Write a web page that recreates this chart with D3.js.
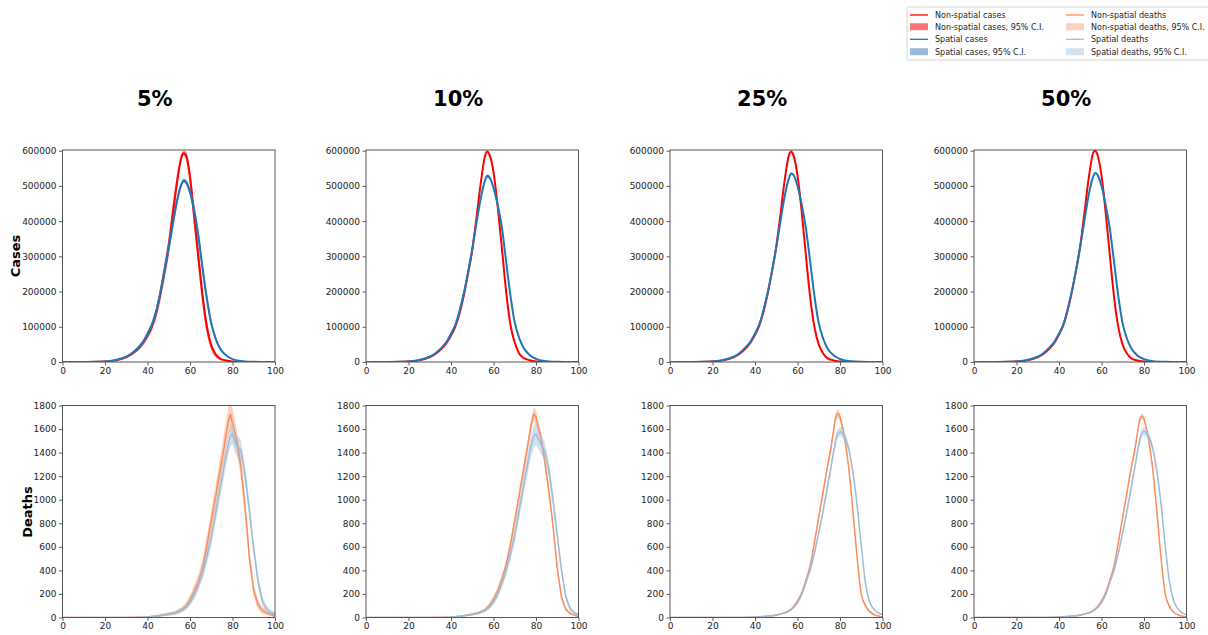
<!DOCTYPE html>
<html>
<head>
<meta charset="utf-8">
<script src="https://cdn.jsdelivr.net/npm/d3@7"></script>
<style>
  body { margin: 0; background: #fff; }
  svg { font-family: "DejaVu Sans", sans-serif; }
</style>
</head>
<body>
<script>
(function () {
// ---- data ----
const colTitles = ["5%", "10%", "25%", "50%"];

const caseDays = [0, 10, 16, 20, 24, 28, 32, 36, 38, 40, 42, 44, 46, 48, 50, 52, 54, 56, 57, 58, 60, 62, 64, 66, 68, 70, 72, 74, 77, 80, 85, 90, 100];
const caseTicks = [0, 100000, 200000, 300000, 400000, 500000, 600000];

const nsCases5  = [0, 100, 500, 1200, 3500, 9000, 20000, 40000, 55000, 75000, 100000, 138000, 192000, 258000, 330000, 425000, 515000, 582000, 593000, 588000, 525000, 410000, 295000, 183000, 98000, 47000, 22000, 10000, 4000, 1500, 300, 0, 0];
const spCases5  = [0, 150, 700, 1600, 4500, 10500, 22000, 43000, 58000, 80000, 105000, 142000, 195000, 258000, 325000, 395000, 460000, 505000, 515000, 512000, 482000, 430000, 355000, 262000, 178000, 110000, 68000, 40000, 19000, 8000, 2000, 400, 0];
const nsCases10 = [0, 100, 500, 1200, 3500, 9000, 20000, 40000, 55000, 75000, 100000, 138000, 188000, 250000, 318000, 410000, 508000, 585000, 598000, 590000, 540000, 440000, 320000, 197000, 105000, 55000, 25000, 12000, 5000, 1500, 300, 0, 0];
const spCases10 = [0, 150, 700, 1600, 4500, 10500, 22000, 43000, 58000, 80000, 105000, 145000, 195000, 255000, 320000, 395000, 465000, 515000, 528000, 525000, 495000, 445000, 380000, 282000, 188000, 112000, 70000, 42000, 20000, 9000, 2000, 400, 0];
const nsCases25 = [0, 100, 500, 1200, 3500, 9000, 20000, 41000, 56000, 77000, 103000, 143000, 195000, 258000, 328000, 420000, 518000, 588000, 598000, 588000, 530000, 425000, 300000, 182000, 98000, 50000, 25000, 11000, 4500, 1300, 250, 0, 0];
const spCases25 = [0, 150, 700, 1600, 4500, 10500, 22000, 44000, 59000, 81000, 106000, 147000, 198000, 258000, 325000, 400000, 472000, 522000, 535000, 532000, 500000, 447000, 378000, 283000, 186000, 110000, 68000, 40000, 19000, 8500, 1800, 400, 0];
const nsCases50 = [0, 100, 500, 1200, 3500, 9000, 20000, 41000, 56000, 78000, 104000, 145000, 197000, 260000, 330000, 425000, 523000, 592000, 600000, 590000, 530000, 422000, 298000, 180000, 96000, 48000, 24000, 10500, 4300, 1200, 250, 0, 0];
const spCases50 = [0, 150, 700, 1600, 4500, 10500, 22000, 44000, 59000, 81000, 106000, 148000, 200000, 260000, 328000, 403000, 475000, 525000, 537000, 533000, 500000, 445000, 375000, 280000, 183000, 108000, 66000, 39000, 18000, 8000, 1700, 400, 0];

// 95% C.I. half widths (cases)
const nsCasesCi5  = [0, 0, 100, 300, 800, 1600, 3000, 6000, 7500, 9000, 12000, 16000, 21000, 25000, 29000, 30000, 22000, 10000, 6000, 10000, 25000, 32000, 32000, 28000, 20000, 12000, 7000, 4000, 1500, 500, 100, 0, 0];
const spCasesCi5  = [0, 0, 100, 300, 800, 1500, 2800, 5000, 6000, 7500, 9000, 11500, 14500, 17500, 20000, 20000, 15000, 8000, 6000, 7000, 12000, 18000, 20000, 20000, 17000, 12000, 8000, 5000, 2000, 800, 200, 0, 0];
const nsCasesCi10 = [0, 0, 50, 100, 300, 600, 1200, 2500, 3000, 4000, 5000, 6500, 8000, 9000, 10000, 10000, 8000, 4000, 3000, 4000, 9000, 11000, 11000, 9000, 7000, 4000, 2500, 1500, 500, 100, 0, 0, 0];
const spCasesCi10 = [0, 0, 50, 200, 400, 800, 1600, 3000, 3500, 4500, 5500, 7000, 8000, 9000, 10000, 10000, 8000, 6000, 5000, 6000, 8000, 9000, 10000, 9000, 7000, 5000, 3500, 2200, 800, 300, 100, 0, 0];
const nsCasesCi25 = [0, 0, 50, 100, 200, 400, 700, 1200, 1500, 2000, 2500, 3000, 3500, 4000, 4500, 4500, 3500, 2000, 1500, 2000, 4000, 5000, 5000, 4500, 3500, 2000, 1200, 700, 200, 50, 0, 0, 0];
const spCasesCi25 = [0, 0, 50, 100, 250, 500, 900, 1500, 1900, 2500, 3000, 3600, 4200, 4800, 5400, 5400, 4500, 3000, 2500, 3000, 4800, 6000, 6000, 5400, 4200, 2600, 1600, 900, 300, 100, 0, 0, 0];
const nsCasesCi50 = [0, 0, 50, 100, 200, 350, 600, 1000, 1300, 1600, 2000, 2500, 3000, 3500, 4000, 4000, 3000, 1800, 1500, 1800, 3500, 4500, 4500, 4000, 3000, 1800, 1100, 600, 200, 50, 0, 0, 0];
const spCasesCi50 = [0, 0, 50, 100, 200, 400, 800, 1300, 1700, 2200, 2600, 3200, 3800, 4400, 5000, 5000, 4200, 3000, 2500, 3000, 4500, 5500, 5500, 5000, 4000, 2400, 1500, 800, 300, 100, 0, 0, 0];

const deathDays = [0, 10, 20, 30, 35, 40, 45, 50, 53, 56, 58, 60, 62, 64, 66, 68, 70, 72, 74, 76, 77, 78, 79, 80, 81, 82, 84, 86, 88, 90, 92, 94, 96, 98, 100];
const deathTicks = [0, 200, 400, 600, 800, 1000, 1200, 1400, 1600, 1800];

const nsDeaths5  = [0, 0, 0, 0, 2, 5, 15, 30, 40, 65, 95, 150, 225, 310, 430, 620, 820, 1020, 1230, 1440, 1560, 1660, 1725, 1650, 1580, 1500, 1270, 920, 500, 230, 110, 60, 40, 25, 10];
const spDeaths5  = [0, 0, 0, 0, 0, 5, 12, 28, 40, 60, 85, 130, 190, 280, 380, 520, 680, 880, 1080, 1280, 1380, 1460, 1540, 1560, 1500, 1460, 1420, 1200, 900, 580, 310, 140, 70, 45, 30];
const nsDeaths10 = [0, 0, 0, 0, 2, 5, 12, 28, 40, 65, 100, 155, 230, 330, 450, 620, 820, 1030, 1240, 1450, 1560, 1660, 1730, 1700, 1620, 1560, 1340, 1080, 780, 420, 170, 70, 35, 20, 8];
const spDeaths10 = [0, 0, 0, 0, 0, 4, 10, 25, 38, 58, 85, 130, 195, 290, 400, 540, 700, 900, 1110, 1300, 1400, 1480, 1540, 1560, 1520, 1480, 1420, 1260, 1000, 700, 400, 180, 75, 40, 25];
const nsDeaths25 = [0, 0, 0, 0, 1, 4, 10, 22, 35, 58, 90, 140, 210, 320, 440, 640, 850, 1060, 1270, 1470, 1590, 1700, 1732, 1700, 1630, 1540, 1290, 920, 520, 200, 100, 50, 25, 12, 5];
const spDeaths25 = [0, 0, 0, 0, 1, 3, 9, 20, 33, 55, 82, 125, 195, 300, 410, 550, 720, 900, 1100, 1300, 1410, 1500, 1560, 1578, 1568, 1540, 1440, 1240, 960, 610, 290, 130, 70, 40, 25];
const nsDeaths50 = [0, 0, 0, 0, 1, 4, 10, 22, 35, 58, 90, 142, 212, 322, 445, 645, 855, 1065, 1270, 1460, 1575, 1680, 1708, 1685, 1615, 1525, 1275, 910, 510, 200, 95, 45, 22, 10, 4];
const spDeaths50 = [0, 0, 0, 0, 1, 3, 9, 20, 33, 55, 82, 126, 196, 300, 410, 552, 720, 905, 1105, 1305, 1415, 1505, 1565, 1580, 1570, 1545, 1445, 1250, 965, 605, 300, 140, 72, 40, 22];

// 95% C.I. half widths (deaths)
const nsDeathsCi5  = [0, 0, 0, 0, 3, 5, 10, 15, 18, 25, 30, 40, 50, 60, 70, 80, 90, 100, 110, 120, 120, 125, 130, 120, 110, 100, 90, 80, 70, 55, 40, 30, 20, 15, 10];
const spDeathsCi5  = [0, 0, 0, 0, 0, 3, 6, 10, 14, 18, 22, 28, 35, 45, 55, 65, 75, 80, 85, 90, 90, 90, 90, 90, 90, 90, 85, 80, 70, 60, 50, 40, 30, 20, 15];
const nsDeathsCi10 = [0, 0, 0, 0, 2, 4, 6, 10, 12, 16, 20, 25, 30, 35, 40, 45, 50, 50, 50, 55, 55, 55, 60, 60, 55, 55, 50, 45, 40, 35, 25, 15, 10, 8, 5];
const spDeathsCi10 = [0, 0, 0, 0, 0, 3, 5, 8, 10, 14, 18, 22, 28, 35, 45, 55, 65, 75, 85, 90, 95, 95, 95, 95, 90, 85, 80, 70, 60, 50, 40, 30, 20, 15, 10];
const nsDeathsCi25 = [0, 0, 0, 0, 1, 2, 3, 5, 6, 8, 10, 12, 15, 18, 20, 22, 25, 28, 30, 32, 35, 35, 35, 35, 35, 33, 30, 28, 25, 20, 15, 10, 6, 4, 2];
const spDeathsCi25 = [0, 0, 0, 0, 1, 2, 3, 5, 6, 8, 10, 12, 15, 18, 22, 25, 28, 30, 35, 38, 40, 40, 40, 40, 40, 38, 35, 32, 28, 22, 16, 10, 6, 4, 3];
const nsDeathsCi50 = [0, 0, 0, 0, 1, 2, 3, 4, 5, 6, 8, 10, 12, 14, 16, 18, 20, 22, 24, 25, 25, 26, 26, 26, 25, 24, 22, 20, 18, 15, 10, 6, 4, 3, 2];
const spDeathsCi50 = [0, 0, 0, 0, 1, 2, 3, 4, 5, 7, 9, 11, 13, 16, 19, 22, 25, 27, 30, 32, 34, 35, 35, 35, 35, 34, 32, 30, 26, 20, 14, 9, 6, 4, 3];

const legendLabels = [
  "Non-spatial cases", "Non-spatial cases, 95% C.I.", "Spatial cases", "Spatial cases, 95% C.I.",
  "Non-spatial deaths", "Non-spatial deaths, 95% C.I.", "Spatial deaths", "Spatial deaths, 95% C.I."
];

// ---- styles ----
const C = {
  nsCase: "#ff0000", nsCaseBand: "#ff0000",
  spCase: "#1f77b4", spCaseBand: "#4682b4",
  nsDeath: "#fc8d59", nsDeathBand: "#fc8d59",
  spDeath: "#9ebcda", spDeathBand: "#9ebcda"
};
const bandOpacity = { nsCase: 0.5, spCase: 0.55, nsDeath: 0.4, spDeath: 0.45 };

// ---- layout ----
const W = 1208, H = 635;
const colLeft = [62.5, 366, 670, 974];
const rowTop = [150, 405.5];
const axW = 212.5, axH = 212;

const svg = d3.select("body").append("svg")
  .attr("width", W)
  .attr("height", H);

const columns = [
  { cases: [nsCases5, nsCasesCi5, spCases5, spCasesCi5], deaths: [nsDeaths5, nsDeathsCi5, spDeaths5, spDeathsCi5], jagged: true },
  { cases: [nsCases10, nsCasesCi10, spCases10, spCasesCi10], deaths: [nsDeaths10, nsDeathsCi10, spDeaths10, spDeathsCi10], jagged: true },
  { cases: [nsCases25, nsCasesCi25, spCases25, spCasesCi25], deaths: [nsDeaths25, nsDeathsCi25, spDeaths25, spDeathsCi25], jagged: false },
  { cases: [nsCases50, nsCasesCi50, spCases50, spCasesCi50], deaths: [nsDeaths50, nsDeathsCi50, spDeaths50, spDeathsCi50], jagged: false }
];

function drawPanel(id, left, top, days, yMax, yTicks, series, curve) {
  const g = svg.append("g").attr("transform", `translate(${left}, ${top})`);

  const x = d3.scaleLinear().domain([0, 100]).range([0, axW]);
  const y = d3.scaleLinear().domain([0, yMax]).range([axH, 0]);

  g.append("clipPath").attr("id", id)
    .append("rect").attr("width", axW).attr("height", axH);

  const plot = g.append("g").attr("clip-path", `url(#${id})`);

  series.forEach(s => {
    const pts = days.map((d, i) => ({ day: d, v: s.vals[i], ci: s.ci[i] }));

    const area = d3.area()
      .x(d => x(d.day))
      .y0(d => y(Math.max(0, d.v - d.ci)))
      .y1(d => y(d.v + d.ci))
      .curve(curve);

    const line = d3.line()
      .x(d => x(d.day))
      .y(d => y(d.v))
      .curve(curve);

    plot.append("path")
      .datum(pts)
      .attr("fill", s.band)
      .attr("fill-opacity", s.bandOpacity)
      .attr("d", area);

    plot.append("path")
      .datum(pts)
      .attr("fill", "none")
      .attr("stroke", s.color)
      .attr("stroke-width", s.width)
      .attr("stroke-linejoin", "round")
      .attr("d", line);
  });

  // axes
  const xAxis = g.append("g")
    .attr("transform", `translate(0, ${axH})`)
    .call(d3.axisBottom(x).tickValues([0, 20, 40, 60, 80, 100]).tickSize(3.5).tickPadding(2));
  const yAxis = g.append("g")
    .call(d3.axisLeft(y).tickValues(yTicks).tickFormat(d3.format("d")).tickSize(3.5).tickPadding(2.5));

  [xAxis, yAxis].forEach(a => {
    a.select(".domain").remove();
    a.selectAll(".tick line").attr("stroke", "#333").attr("stroke-width", 0.8);
    a.selectAll(".tick text")
      .attr("fill", "#222")
      .style("font-size", "9px")
      .style("font-family", "DejaVu Sans, sans-serif");
  });

  // frame
  g.append("rect")
    .attr("width", axW)
    .attr("height", axH)
    .attr("fill", "none")
    .attr("stroke", "#555")
    .attr("stroke-width", 1);
}

columns.forEach((col, c) => {
  const left = colLeft[c];

  // column title
  svg.append("text")
    .attr("x", left + axW / 2 - 14)
    .attr("y", 106)
    .attr("text-anchor", "middle")
    .style("font-size", "21px")
    .style("font-weight", "bold")
    .text(colTitles[c]);

  drawPanel(`clipc${c}`, left, rowTop[0], caseDays, 602000, caseTicks, [
    { vals: col.cases[0], ci: col.cases[1], color: C.nsCase, band: C.nsCaseBand, bandOpacity: bandOpacity.nsCase, width: 2 },
    { vals: col.cases[2], ci: col.cases[3], color: C.spCase, band: C.spCaseBand, bandOpacity: bandOpacity.spCase, width: 2 }
  ], d3.curveMonotoneX);

  drawPanel(`clipd${c}`, left, rowTop[1], deathDays, 1800, deathTicks, [
    { vals: col.deaths[0], ci: col.deaths[1], color: C.nsDeath, band: C.nsDeathBand, bandOpacity: bandOpacity.nsDeath, width: 1.5 },
    { vals: col.deaths[2], ci: col.deaths[3], color: C.spDeath, band: C.spDeathBand, bandOpacity: bandOpacity.spDeath, width: 1.5 }
  ], col.jagged ? d3.curveLinear : d3.curveMonotoneX);
});

// row labels
svg.append("text")
  .attr("transform", "translate(20, 256) rotate(-90)")
  .attr("text-anchor", "middle")
  .style("font-size", "13px")
  .style("font-weight", "bold")
  .text("Cases");

svg.append("text")
  .attr("transform", "translate(32, 512) rotate(-90)")
  .attr("text-anchor", "middle")
  .style("font-size", "13px")
  .style("font-weight", "bold")
  .text("Deaths");

// legend
const legend = svg.append("g").attr("transform", "translate(907, 7)");

legend.append("rect")
  .attr("width", 310)
  .attr("height", 53)
  .attr("rx", 2)
  .attr("fill", "#fff")
  .attr("fill-opacity", 0.8)
  .attr("stroke", "#ccc")
  .attr("stroke-width", 0.8);

const legendItems = [
  { type: "line", color: C.nsCase },
  { type: "patch", color: C.nsCaseBand, op: bandOpacity.nsCase + 0.05 },
  { type: "line", color: C.spCase },
  { type: "patch", color: C.spCaseBand, op: bandOpacity.spCase },
  { type: "line", color: C.nsDeath },
  { type: "patch", color: C.nsDeathBand, op: bandOpacity.nsDeath },
  { type: "line", color: C.spDeath },
  { type: "patch", color: C.spDeathBand, op: bandOpacity.spDeath }
];
const rowY = [8, 19.7, 32.3, 44.7];

legendItems.forEach((it, i) => {
  const col = Math.floor(i / 4);
  const row = i % 4;
  const hx = col === 0 ? 3 : 159;
  const cy = rowY[row];
  if (it.type === "line") {
    legend.append("line")
      .attr("x1", hx).attr("x2", hx + 18)
      .attr("y1", cy).attr("y2", cy)
      .attr("stroke", it.color)
      .attr("stroke-width", 1.3);
  } else {
    legend.append("rect")
      .attr("x", hx).attr("y", cy - 3.5)
      .attr("width", 18).attr("height", 7)
      .attr("fill", it.color)
      .attr("fill-opacity", it.op);
  }
  legend.append("text")
    .attr("x", hx + 25)
    .attr("y", cy + 3)
    .style("font-size", "8px")
    .attr("fill", "#222")
    .text(legendLabels[i]);
});
})();
</script>
</body>
</html>
